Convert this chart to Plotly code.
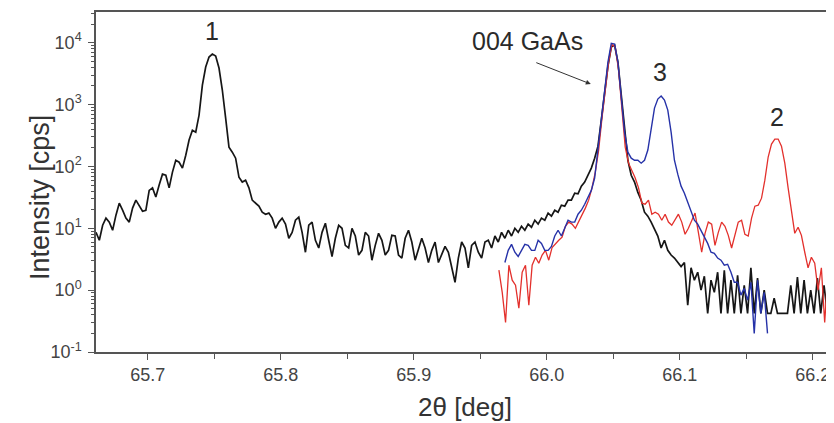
import plotly.graph_objects as go

# ---------------- data ----------------
black_angle = [
    65.6610, 65.6635, 65.6660, 65.6685, 65.6710, 65.6735, 65.6760, 65.6785, 65.6810, 65.6835,
    65.6860, 65.6885, 65.6910, 65.6935, 65.6960, 65.6985, 65.7010, 65.7035, 65.7060, 65.7085,
    65.7110, 65.7135, 65.7160, 65.7185, 65.7210, 65.7235, 65.7260, 65.7285, 65.7310, 65.7335,
    65.7360, 65.7385, 65.7410, 65.7435, 65.7460, 65.7485, 65.7510, 65.7535, 65.7560, 65.7585,
    65.7610, 65.7635, 65.7660, 65.7685, 65.7710, 65.7735, 65.7760, 65.7785, 65.7810, 65.7835,
    65.7860, 65.7885, 65.7910, 65.7935, 65.7960, 65.7985, 65.8010, 65.8035, 65.8060, 65.8085,
    65.8110, 65.8135, 65.8160, 65.8185, 65.8210, 65.8235, 65.8260, 65.8285, 65.8310, 65.8335,
    65.8360, 65.8385, 65.8410, 65.8435, 65.8460, 65.8485, 65.8510, 65.8535, 65.8560, 65.8585,
    65.8610, 65.8635, 65.8660, 65.8685, 65.8710, 65.8735, 65.8760, 65.8785, 65.8810, 65.8835,
    65.8860, 65.8885, 65.8910, 65.8935, 65.8960, 65.8985, 65.9010, 65.9035, 65.9060, 65.9085,
    65.9110, 65.9135, 65.9160, 65.9185, 65.9210, 65.9235, 65.9260, 65.9285, 65.9310, 65.9335,
    65.9360, 65.9385, 65.9410, 65.9435, 65.9460, 65.9485, 65.9510, 65.9535, 65.9560, 65.9585,
    65.9610, 65.9635, 65.9660, 65.9685, 65.9710, 65.9735, 65.9760, 65.9785, 65.9810, 65.9835,
    65.9860, 65.9885, 65.9910, 65.9935, 65.9960, 65.9985, 66.0010, 66.0035, 66.0060, 66.0085,
    66.0110, 66.0135, 66.0160, 66.0185, 66.0210, 66.0235, 66.0260, 66.0285, 66.0310, 66.0335,
    66.0360, 66.0385, 66.0410, 66.0435, 66.0460, 66.0485, 66.0510, 66.0535, 66.0560, 66.0585,
    66.0610, 66.0635, 66.0660, 66.0685, 66.0710, 66.0735, 66.0760, 66.0785, 66.0810, 66.0835,
    66.0860, 66.0885, 66.0910, 66.0935, 66.0960, 66.0985, 66.1010, 66.1035, 66.1060, 66.1085,
    66.1110, 66.1135, 66.1160, 66.1185, 66.1210, 66.1235, 66.1260, 66.1285, 66.1310, 66.1335,
    66.1360, 66.1385, 66.1410, 66.1435, 66.1460, 66.1485, 66.1510, 66.1535, 66.1560, 66.1585,
    66.1610, 66.1635, 66.1660, 66.1685, 66.1710, 66.1735, 66.1760, 66.1785, 66.1810, 66.1835,
    66.1860, 66.1885, 66.1910, 66.1935, 66.1960, 66.1985, 66.2010, 66.2035, 66.2060, 66.2085,
    66.2110, 66.2135, 66.2160,
]
black_cps = [
    8.6, 6.4, 11.2, 14.6, 12.6, 9.3, 16.3, 25.5, 19.6, 14.6,
    12.6, 21.2, 28.5, 22.8, 18.9, 19.6, 41, 45, 32, 50,
    75, 72, 45, 81, 126, 117, 94, 152, 267, 386,
    359, 676, 2070, 4050, 5870, 6560, 6090, 3900, 1720, 605,
    205, 170, 136, 67, 56, 60, 45, 28.5, 25.5, 22.8,
    18.2, 16.9, 17.6, 14.6, 10.0, 12.6, 14.6, 11.7, 6.9, 8.6,
    13.5, 15.1, 8.6, 4.1, 11.2, 12.6, 6.4, 4.8, 8.6, 12.1,
    6.4, 3.5, 6.9, 11.2, 10.0, 5.3, 4.8, 10.0, 7.5, 3.7,
    4.4, 8.6, 7.5, 3.05, 5.3, 8.3, 6.4, 3.7, 4.4, 7.7,
    7.5, 3.7, 3.3, 6.9, 9.3, 6.0, 3.05, 4.8, 6.9, 4.8,
    2.8, 4.4, 6.0, 2.8, 3.7, 5.1, 4.1, 2.3, 1.34, 3.3,
    6.0, 4.8, 2.3, 5.3, 6.0, 4.1, 3.3, 6.0, 6.4, 4.8,
    7.5, 6.0, 8.6, 6.9, 9.3, 7.5, 10.0, 8.6, 10.8, 9.3,
    11.7, 10.4, 13.5, 11.7, 14.6, 13.5, 17.6, 15.7, 19.6, 18.2,
    23.6, 22.8, 28.5, 28.5, 37, 36, 48, 56, 75, 94,
    136, 213, 561, 1430, 4200, 8510, 9180, 4880, 1430, 386,
    126, 72, 56, 38, 28.5, 18.2, 15.7, 12.6, 10.0, 7.5,
    4.8, 6.4, 4.4, 3.7, 3.3, 2.8, 2.4, 2.8, 0.57, 2.3,
    1.45, 1.95, 1.0, 1.68, 0.42, 1.45, 0.92, 1.95, 0.42, 2.1,
    0.42, 1.45, 0.42, 1.74, 0.42, 1.2, 0.42, 2.3, 0.42, 1.56,
    0.42, 1.0, 0.42, 0.42, 0.74, 0.42, 0.42, 0.42, 0.42, 1.2,
    0.42, 1.62, 0.42, 1.45, 0.42, 1.0, 0.42, 1.56, 0.42, 1.2,
    0.42, 1.45, 0.42,
]

red_angle = [
    65.9640, 65.9665, 65.9690, 65.9715, 65.9740, 65.9765, 65.9790, 65.9815, 65.9840, 65.9865,
    65.9890, 65.9915, 65.9940, 65.9965, 65.9990, 66.0015, 66.0040, 66.0065, 66.0090, 66.0115,
    66.0140, 66.0165, 66.0190, 66.0215, 66.0240, 66.0265, 66.0290, 66.0315, 66.0340, 66.0365,
    66.0390, 66.0415, 66.0440, 66.0465, 66.0490, 66.0515, 66.0540, 66.0565, 66.0590, 66.0615,
    66.0640, 66.0665, 66.0690, 66.0715, 66.0740, 66.0765, 66.0790, 66.0815, 66.0840, 66.0865,
    66.0890, 66.0915, 66.0940, 66.0965, 66.0990, 66.1015, 66.1040, 66.1065, 66.1090, 66.1115,
    66.1140, 66.1165, 66.1190, 66.1215, 66.1240, 66.1265, 66.1290, 66.1315, 66.1340, 66.1365,
    66.1390, 66.1415, 66.1440, 66.1465, 66.1490, 66.1515, 66.1540, 66.1565, 66.1590, 66.1615,
    66.1640, 66.1665, 66.1690, 66.1715, 66.1740, 66.1765, 66.1790, 66.1815, 66.1840, 66.1865,
    66.1890, 66.1915, 66.1940, 66.1965, 66.1990, 66.2015, 66.2040, 66.2065, 66.2090, 66.2115,
    66.2140,
]
red_cps = [
    2.1, 0.92, 0.30, 2.53, 1.45, 1.2, 0.51, 1.95, 2.53, 0.57,
    2.53, 3.4, 2.72, 3.7, 4.4, 3.05, 4.9, 5.7, 6.4, 7.2,
    10.8, 12.6, 11.7, 10.0, 12.6, 16.3, 21.2, 28.5, 45, 81,
    184, 605, 1720, 4880, 9400, 8510, 3615, 815, 205, 113,
    87, 65, 45, 25.5, 24.5, 28.5, 16.9, 18.2, 16.9, 13.5,
    16.9, 12.6, 11.2, 13.5, 16.9, 12.6, 8.0, 10.0, 13.5, 17.6,
    8.6, 4.1, 8.3, 12.6, 11.7, 5.3, 8.6, 12.6, 10.8, 7.7,
    4.8, 7.5, 12.6, 13.5, 8.0, 7.5, 14.6, 22.8, 23.6, 30.7,
    60, 142, 230, 277, 277, 213, 113, 45, 18.2, 8.3,
    10.4, 7.7, 4.1, 2.3, 3.4, 2.72, 1.0, 2.3, 0.30, 2.1,
    1.0,
]

blue_angle = [
    65.9685, 65.9710, 65.9735, 65.9760, 65.9785, 65.9810, 65.9835, 65.9860, 65.9885, 65.9910,
    65.9935, 65.9960, 65.9985, 66.0010, 66.0035, 66.0060, 66.0085, 66.0110, 66.0135, 66.0160,
    66.0185, 66.0210, 66.0235, 66.0260, 66.0285, 66.0310, 66.0335, 66.0360, 66.0385, 66.0410,
    66.0435, 66.0460, 66.0485, 66.0510, 66.0535, 66.0560, 66.0585, 66.0610, 66.0635, 66.0660,
    66.0685, 66.0710, 66.0735, 66.0760, 66.0785, 66.0810, 66.0835, 66.0860, 66.0885, 66.0910,
    66.0935, 66.0960, 66.0985, 66.1010, 66.1035, 66.1060, 66.1085, 66.1110, 66.1135, 66.1160,
    66.1185, 66.1210, 66.1235, 66.1260, 66.1285, 66.1310, 66.1335, 66.1360, 66.1385, 66.1410,
    66.1435, 66.1460, 66.1485, 66.1510, 66.1535, 66.1560, 66.1585, 66.1610, 66.1635, 66.1660,
]
blue_cps = [
    2.8, 4.4, 5.5, 4.1, 3.5, 4.4, 5.5, 5.3, 4.4, 4.4,
    6.4, 5.7, 4.4, 4.4, 5.1, 7.5, 9.3, 7.5, 10.0, 13.5,
    12.6, 12.6, 16.9, 19.6, 24.5, 32, 41, 65, 184, 605,
    1720, 4880, 9800, 9500, 4880, 1180, 359, 170, 136, 126,
    126, 113, 126, 184, 417, 877, 1228, 1374, 1180, 815,
    359, 126, 75, 48, 37, 26.4, 18.2, 13.5, 11.7, 9.3,
    7.5, 5.7, 4.1, 3.95, 3.3, 3.05, 2.53, 2.62, 1.95, 1.34,
    1.34, 0.83, 1.07, 0.69, 1.34, 0.2, 1.45, 0.42, 0.92, 0.2,
]

x_tick_values = [65.7, 65.8, 65.9, 66.0, 66.1, 66.2]
x_tick_labels = ["65.7", "65.8", "65.9", "66.0", "66.1", "66.2"]
y_tick_values = [0.1, 1, 10, 100, 1000, 10000]
y_tick_labels = ["10<sup>-1</sup>", "10<sup>0</sup>", "10<sup>1</sup>",
                 "10<sup>2</sup>", "10<sup>3</sup>", "10<sup>4</sup>"]

peak_labels = ["1", "004 GaAs", "3", "2"]
peak_label_angle = [65.7481, 65.9857, 66.0850, 66.1729]
peak_label_log = [4.189, 4.028, 3.526, 2.798]

# ---------------- figure ----------------
# The page body has an 8 px default margin, so the figure is drawn 8 px
# smaller and the margins are reduced by 8 px to land where the reference has them.
FONT = "Arial, 'Liberation Sans', sans-serif"
fig = go.Figure()
fig.add_trace(go.Scatter(x=black_angle, y=black_cps, mode="lines",
                         line=dict(color="#161616", width=1.7), name="black"))
fig.add_trace(go.Scatter(x=red_angle, y=red_cps, mode="lines",
                         line=dict(color="#e3302c", width=1.3), name="red"))
fig.add_trace(go.Scatter(x=blue_angle, y=blue_cps, mode="lines",
                         line=dict(color="#2632a8", width=1.4), name="blue"))

for t, ax_, ay_ in zip(peak_labels, peak_label_angle, peak_label_log):
    fig.add_annotation(x=ax_, y=ay_, text=t, showarrow=False,
                       font=dict(family=FONT, size=25, color="#2a2a2a"))

# arrow pointing to the substrate peak
fig.add_annotation(x=66.0331, y=3.332, text="", showarrow=True,
                   ax=-56, ay=-22, arrowhead=2, arrowsize=1, arrowwidth=1,
                   arrowcolor="#333333", standoff=0)

# axis titles
fig.add_annotation(xref="paper", yref="paper", x=0.5, y=-0.163, text="2θ [deg]",
                   showarrow=False, font=dict(family=FONT, size=26, color="#333"),
                   yanchor="middle")
fig.add_annotation(xref="paper", yref="paper", x=-0.099, y=0.456, text="Intensity [cps]",
                   textangle=-90, showarrow=False,
                   font=dict(family=FONT, size=27, color="#333"))

fig.update_layout(
    width=826, height=415,
    margin=dict(l=88, r=0, t=4, b=71, autoexpand=False),
    paper_bgcolor="white", plot_bgcolor="white",
    showlegend=False,
    font=dict(family=FONT, color="#333"),
)
fig.update_xaxes(
    range=[65.661, 66.216], showgrid=False, zeroline=False, automargin=False,
    showline=True, linecolor="#555", linewidth=1.5, mirror=True,
    ticks="outside", ticklen=6, tickwidth=1.2, tickcolor="#555",
    tickvals=x_tick_values, ticktext=x_tick_labels,
    tickfont=dict(family=FONT, size=18, color="#444"),
    ticklabelstandoff=0,
    minor=dict(ticks="outside", ticklen=5, tickwidth=1.2, tickcolor="#555",
               tick0=65.65, dtick=0.05, showgrid=False),
)
fig.update_yaxes(
    type="log", range=[-1, 4.497], showgrid=False, zeroline=False, automargin=False,
    showline=True, linecolor="#555", linewidth=1.5,
    ticks="outside", ticklen=6, tickwidth=1.2, tickcolor="#555",
    tickvals=y_tick_values, ticktext=y_tick_labels,
    tickfont=dict(family=FONT, size=18, color="#444"),
    ticklabelstandoff=3,
    minor=dict(ticks="outside", ticklen=3, tickwidth=1, tickcolor="#555",
               dtick="D1", showgrid=False),
)

fig.write_html("out.html")
